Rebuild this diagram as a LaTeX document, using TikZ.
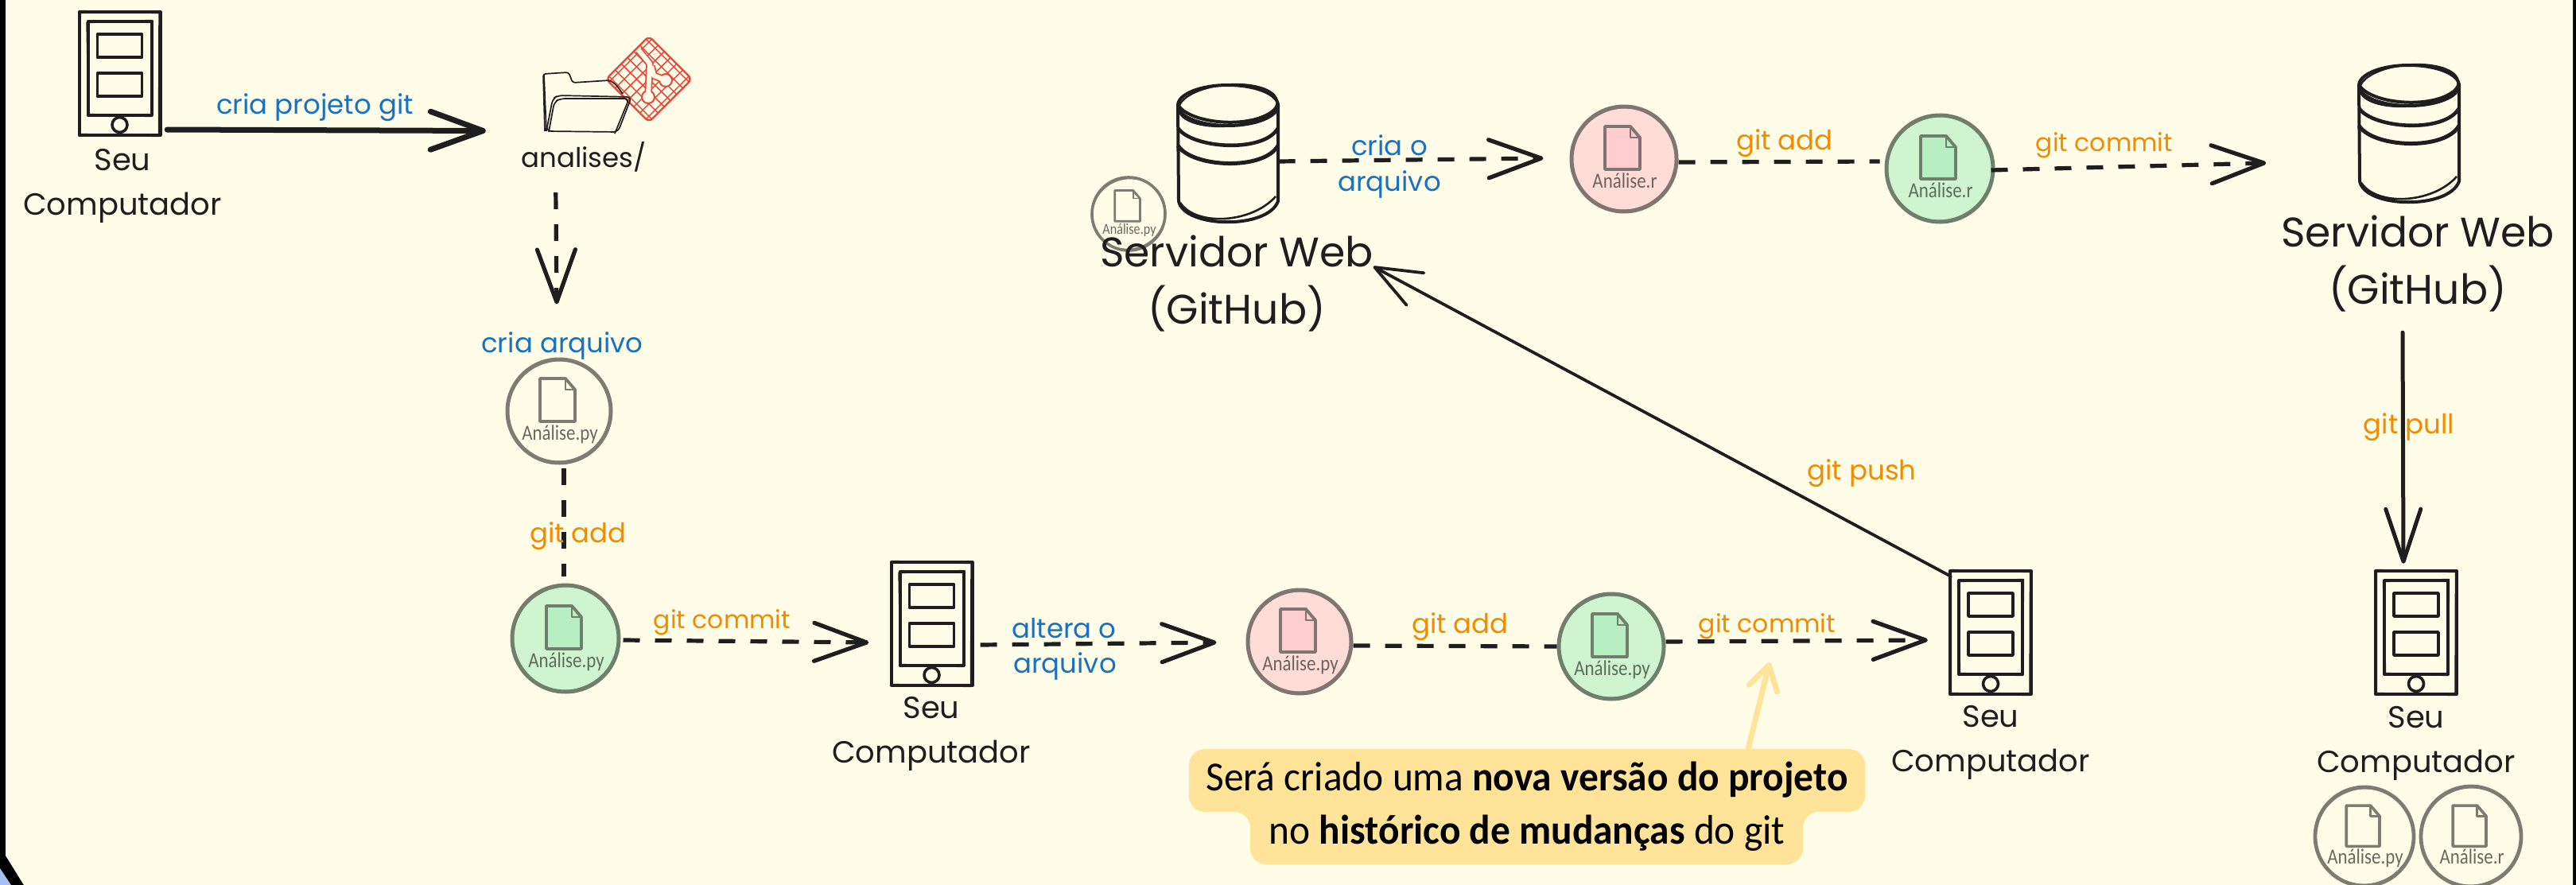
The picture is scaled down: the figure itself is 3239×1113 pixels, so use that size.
\documentclass[tikz,border=0pt]{standalone}
\usepackage{fontspec}
\usetikzlibrary{arrows.meta,decorations.pathmorphing,shapes.geometric}
\newfontfamily\handfont{Poppins}
\newfontfamily\notefont{Carlito}[FakeStretch=0.95]
\newfontfamily\filefont{Carlito}[FakeStretch=0.85]
\definecolor{paper}{HTML}{FFFDE8}
\definecolor{ink}{HTML}{1E1E1E}
\definecolor{cblue}{HTML}{1971C2}
\definecolor{corange}{HTML}{F08C00}
\definecolor{gitred}{HTML}{E5483A}
\definecolor{notefill}{HTML}{FFE399}
\definecolor{cornerblue}{HTML}{A5C0EE}
\definecolor{ggray}{HTML}{7C7C72}
\definecolor{ggreen}{HTML}{6F7F6C}
\definecolor{gpink}{HTML}{7F7571}
\definecolor{fgreen}{HTML}{CEF5CF}
\definecolor{igreen}{HTML}{B8EFC2}
\definecolor{fpink}{HTML}{FFDCD5}
\definecolor{ipink}{HTML}{FFCDCD}
\tikzset{
  box/.style={rectangle,inner sep=0pt},
  head/.style={-{Straight Barb[length=66pt,width=48pt,line width=#1,round]}},
  solidarrow/.style={draw=ink,line width=#1,line cap=round,head=#1},
  dasharrow/.style={draw=ink,line width=5.2pt,dash pattern=on 21pt off 19pt,head=5.2pt},
  dashlink/.style={draw=ink,line width=5.2pt,dash pattern=on 21pt off 19pt},
  name text/.style={font=\handfont\fontsize{38.5}{56}\selectfont,text=ink,align=center,anchor=base,inner sep=0pt},
  server text/.style={font=\handfont\fontsize{52}{72}\selectfont,text=ink,align=center,anchor=base,inner sep=0pt},
  small text/.style={font=\handfont\fontsize{34}{34}\selectfont,text=ink,anchor=base,inner sep=0pt},
  edge blue/.style={font=\handfont\fontsize{34}{34}\selectfont,text=cblue,anchor=base,inner sep=0pt},
  edge orange/.style={font=\handfont\fontsize{34}{34}\selectfont,text=corange,anchor=base,inner sep=0pt},
  edge commit/.style={font=\handfont\fontsize{31.5}{32}\selectfont,text=corange,anchor=base,inner sep=0pt},
  file label/.style={anchor=base,inner sep=0pt},
  note text/.style={font=\notefont\fontsize{52}{67}\selectfont,text=black,align=center,inner sep=0pt,minimum height=145pt}
}
% computer icon: name, centre x, top y
\newcommand{\computer}[3]{%
  \node[box,minimum width=102pt,minimum height=155pt] (#1) at (#2,#3+77.5) {};
  \begin{scope}[shift={(#2,#3)},draw=ink,line width=4pt,line join=round]
    \draw (-51,0) rectangle (51,155);
    \draw[line width=2.4pt] (-50,-1) -- (50,1) -- (49.5,156) -- (-50,154) -- cycle;
    \draw (-40,12) rectangle (40,130);
    \draw[line width=2.4pt] (-41,13) -- (41,11) -- (40,131) -- (-39,129) -- cycle;
    \draw[line width=3.6pt] (-28,28) rectangle (28,57);
    \draw[line width=3.6pt] (-28,77) rectangle (28,106);
    \draw[line width=3.6pt] (0,142) circle (9.5);
  \end{scope}}
% server icon: name, centre x, top y
\newcommand{\server}[3]{%
  \node[box,minimum width=127pt,minimum height=171pt] (#1) at (#2,#3+85.5) {};
  \begin{scope}[shift={(#2,#3)},draw=ink,line width=4pt]
    \draw (0,25.5) ellipse (63 and 25.5);
    \draw[line width=2.4pt,rotate around={5:(0,25.5)}] (0,25.5) ellipse (62 and 26);
    \draw (-63,25) .. controls (-45,52) and (45,56) .. (63,25);
    \draw[line width=4.6pt] (-63,54) .. controls (-45,80) and (45,86) .. (63,54);
    \draw[line width=5pt] (-63,76) .. controls (-45,104) and (45,108) .. (63,76);
    \draw (-63,25) -- (-62,146) .. controls (-55,180) and (50,182) .. (63,146) -- (63,25);
    \draw[line width=2.6pt] (-60,148) .. controls (-40,178) and (30,174) .. (60,140);
  \end{scope}}
% file circle: name, cx, cy, radius, scale, font size, fill, stroke, icon fill, label
\newcommand{\filecirc}[9]{\def\fcA{#1}\def\fcB{#2}\def\fcC{#3}\def\fcD{#4}\def\fcE{#5}\def\fcF{#6}\def\fcG{#7}\def\fcH{#8}\def\fcI{#9}\filecircC}
\newcommand{\filecircC}[1]{%
  \node[circle,inner sep=0pt,minimum size=2*\fcD pt,fill=\fcG,draw=\fcH,line width=5pt*\fcE] (\fcA) at (\fcB,\fcC) {};
  \draw[\fcH,line width=2.2pt,rotate around={25:(\fcB,\fcC)}] (\fcB,\fcC) ellipse ({\fcD+0.6} and {\fcD-1.6});
  \begin{scope}[shift={(\fcB,\fcC)},scale=\fcE]
    \draw[\fcH,line width=3.8pt*\fcE,line join=round,fill=\fcI] (-24,-41) -- (8,-41) -- (20,-27) -- (20,13) -- (-24,13) -- cycle;
    \draw[\fcH,line width=2.6pt*\fcE,line join=round] (8,-41) -- (8,-27) -- (20,-27);
  \end{scope}
  \node[file label,text=\fcH!85!black,font=\filefont\fontsize{\fcF}{\fcF}\selectfont] (\fcA lbl) at (\fcB+1,\fcC+36*\fcE) {#1};}
\begin{document}
\begin{tikzpicture}[x=1pt,y=-1pt]
\useasboundingbox (0,0) rectangle (3239,1113);
% page
\fill[black] (0,0) rectangle (3239,1113);
\fill[paper] (7,0) -- (3235,0) -- (3235,1113) -- (30,1113) -- (7,1076) -- cycle;
\fill[cornerblue] (0,1092) -- (14,1113) -- (0,1113) -- cycle;

% computers and servers
\computer{C1}{150.5}{15}
\computer{C2}{1171.5}{707}
\computer{C3}{2503}{718}
\computer{C4}{3038}{718}
\server{S1}{1544}{107}
\server{S2}{3029}{82}

% git logo
\begin{scope}
  \begin{scope}[shift={(816,99.5)},rotate=45]
    \clip[rounded corners=6pt] (-38,-38) rectangle (38,38);
    \foreach \g in {-33,-22,...,33} {
      \draw[gitred,line width=1.5pt] (\g,-40) -- (\g,40);
      \draw[gitred,line width=1.5pt] (-40,\g) -- (40,\g);
    }
  \end{scope}
  \draw[gitred,line width=2.4pt,rounded corners=6pt] (816,45.5) -- (870,99.5) -- (816,153.5) -- (762,99.5) -- cycle;
  \draw[gitred,line width=9.5pt,line join=round] (803,63) -- (817,80) -- (815,122);
  \draw[gitred,line width=9.5pt,line join=round] (819,83) -- (822,95) -- (837,101);
  \fill[gitred] (815,122) circle (9) (837,101) circle (9);
  \draw[paper,line width=6pt,line join=round] (803,63) -- (817,80) -- (815,122);
  \draw[paper,line width=6pt,line join=round] (819,83) -- (822,95) -- (837,101);
  \fill[paper] (815,122) circle (6.8) (837,101) circle (6.8);
\end{scope}

% folder
\node[box,minimum width=112pt,minimum height=77pt] (folder) at (739,128.5) {};
\begin{scope}[draw=ink,line width=1.7pt,line join=round]
  \draw[rounded corners=3pt] (685,165) -- (683,93) -- (715,91) -- (720,104) -- (767,101) -- (775,107) -- (783,118);
  \draw[rounded corners=3pt] (684,94) -- (687,165);
  \draw[rounded corners=6pt] (687,165) -- (695,124) -- (702,120) -- (794,122) -- (777,166) -- cycle;
  \draw[rounded corners=6pt] (690,166) -- (697,128) -- (705,124) -- (791,124) -- (773,168);
\end{scope}

% file circles
\filecirc{fa}{703}{517}{65}{1}{27}{none}{ggray}{none}{Análise.py}
\filecirc{fb}{711}{803}{67}{1}{27}{fgreen}{ggreen}{igreen}{Análise.py}
\filecirc{fd}{1634}{807}{65}{1}{27}{fpink}{gpink}{ipink}{Análise.py}
\filecirc{fe}{2026}{813}{66}{1}{27}{fgreen}{ggreen}{igreen}{Análise.py}
\filecirc{ff}{1419}{269}{46}{0.72}{19}{none}{ggray}{none}{Análise.py}
\filecirc{fg}{2042}{200}{66}{1}{27}{fpink}{gpink}{ipink}{Análise.r}
\filecirc{fh}{2439}{212}{67}{1}{27}{fgreen}{ggreen}{igreen}{Análise.r}
\filecirc{fi}{2973}{1052}{62}{0.95}{27}{none}{ggray}{none}{Análise.py}
\filecirc{fj}{3107}{1052}{63}{0.95}{27}{none}{ggray}{none}{Análise.r}

% connectors
\draw[solidarrow=7pt] ([xshift=8.5pt,yshift=-70.5pt]C1.east) -- ([xshift=-72pt,yshift=-36pt]folder.west);
\draw[dasharrow] ([xshift=16pt,yshift=-75pt]folder.south west) -- ([xshift=-3pt,yshift=67pt]fa.north);
\draw[dashlink] ([xshift=6pt,yshift=-4pt]fa.south) -- ([xshift=-2pt,yshift=9pt]fb.north);
\draw[dasharrow] ([xshift=3pt,yshift=-2pt]fb.east) -- ([xshift=-28pt,yshift=-23.5pt]C2.west);
\draw[dasharrow] ([xshift=10pt,yshift=-26.5pt]C2.east) -- ([xshift=-37pt,yshift=-1pt]fd.west);
\draw[dashlink] ([yshift=-5pt]fd.east) -- (fe.west);
\draw[dasharrow] ([yshift=6pt]fe.east) -- ([xshift=-28pt,yshift=-9.5pt]C3.west);
\draw[draw=ink,line width=3.8pt,line cap=round,-{Straight Barb[length=58pt,width=46pt,line width=3.8pt,round]}] ([xshift=1pt,yshift=-7pt]C3.north west) -- ([xshift=119pt,yshift=-57pt]S1.south east);
\draw[dasharrow] ([yshift=-10.5pt]S1.east) -- ([xshift=-33pt,yshift=1pt]fg.west);
\draw[dashlink] ([yshift=-4pt]fg.east) -- ([xshift=-6pt,yshift=9pt]fh.west);
\draw[dasharrow] ([xshift=-5pt,yshift=-2pt]fh.east) -- ([xshift=-116pt,yshift=-37.5pt]S2.west);
\draw[draw=ink,line width=5pt,line cap=round,-{Straight Barb[length=66pt,width=44pt,line width=5pt,round]}] ([xshift=-8pt,yshift=-165pt]S2.south) -- ([xshift=-16pt,yshift=9pt]C4.north);

% callout
\fill[notefill,rounded corners=20pt] (1495,942) -- (2345,942) -- (2345,1021) -- (2267,1021) -- (2267,1087) -- (1572,1087) -- (1572,1021) -- (1495,1021) -- cycle;
\node[note text] (note) at (1920,1014.5) {Será criado uma \textbf{nova versão do projeto}\\no \textbf{histórico de mudanças} do git};
\coordinate (notetip) at (2225,833);
\draw[notefill,line width=7pt,line cap=round,-{Straight Barb[length=30pt,width=36pt,line width=7pt,round]}] ([xshift=278pt]note.north) -- (notetip);

% labels
\node[name text] (t1) at (154,270) {Seu\\Computador};
\node[name text] (t2) at (1171,959) {Seu\\Computador};
\node[name text] (t3) at (2503,970) {Seu\\Computador};
\node[name text] (t4) at (3038,971) {Seu\\Computador};
\node[server text] (t5) at (1555,407) {Servidor Web\\(GitHub)};
\node[server text] (t6) at (3040,382) {Servidor Web\\(GitHub)};
\node[small text] (t7) at (734,210) {analises/};
\node[edge blue] (l1) at (396,143) {cria projeto git};
\node[edge blue] (l2) at (707,443) {cria arquivo};
\node[edge blue] (l3) at (1338,802) {altera o};
\node[edge blue] (l4) at (1339,846) {arquivo};
\node[edge blue] (l5) at (1747,195) {cria o};
\node[edge blue] (l6) at (1747,240) {arquivo};
\node[edge orange] (o1) at (727,682) {git add};
\node[edge commit] (o2) at (908,790) {git commit};
\node[edge orange] (o3) at (1836,796) {git add};
\node[edge commit] (o4) at (2222,795) {git commit};
\node[edge orange] (o5) at (2244,188) {git add};
\node[edge commit] (o6) at (2646,190) {git commit};
\node[edge orange] (o7) at (2341,603) {git push};
\node[edge orange] (o8) at (3029,545) {git pull};
\end{tikzpicture}
\end{document}
